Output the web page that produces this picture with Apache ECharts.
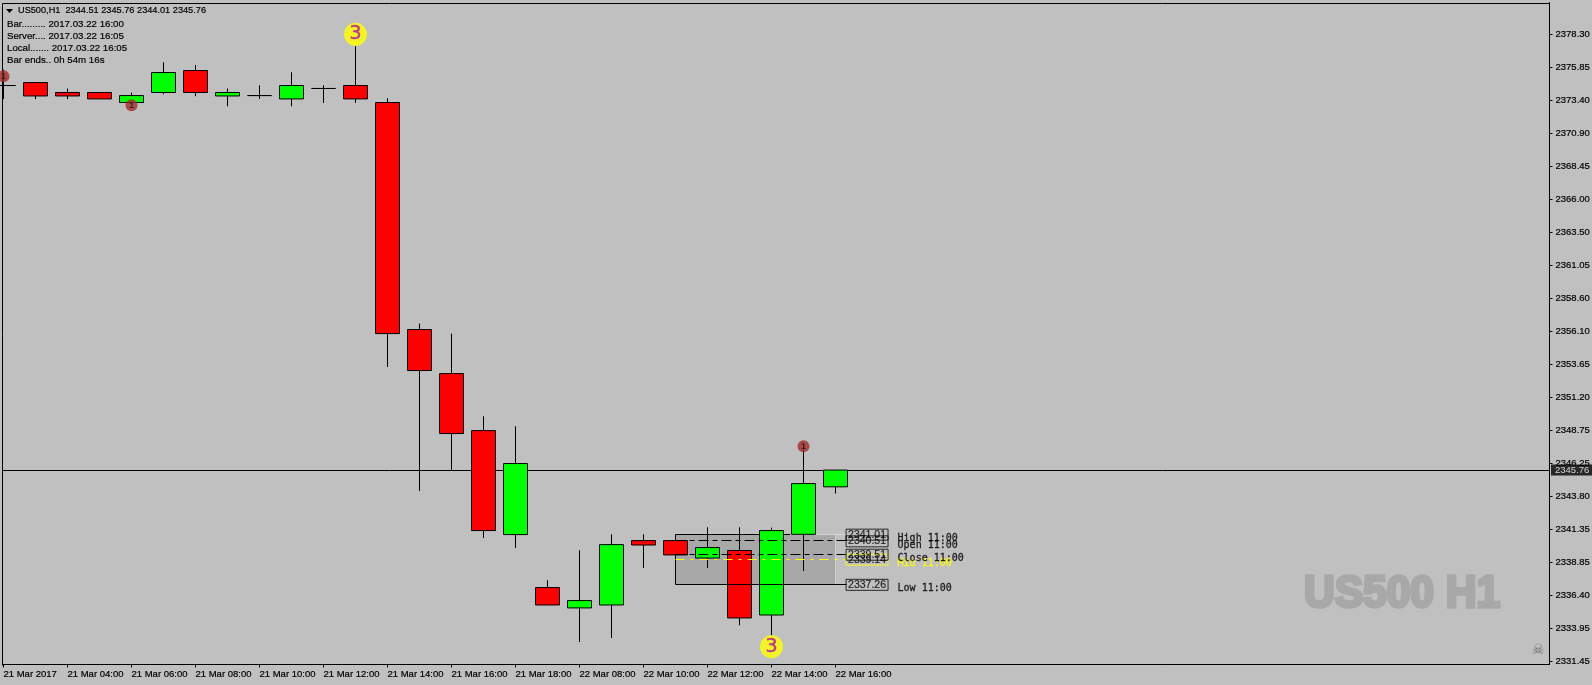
<!DOCTYPE html>
<html>
<head>
<meta charset="utf-8">
<style>html,body{margin:0;padding:0;background:#c0c0c0}#c{width:1592px;height:685px}</style>
<script src="https://cdn.jsdelivr.net/npm/echarts@6/dist/echarts.min.js"></script>
</head>
<body>
<div id="c"></div>
<script>
const categories = ['21 Mar 02:00','21 Mar 03:00','21 Mar 04:00','21 Mar 05:00','21 Mar 06:00','21 Mar 07:00','21 Mar 08:00','21 Mar 09:00','21 Mar 10:00','21 Mar 11:00','21 Mar 12:00','21 Mar 13:00','21 Mar 14:00','21 Mar 15:00','21 Mar 16:00','21 Mar 17:00','21 Mar 18:00','21 Mar 19:00','22 Mar 08:00','22 Mar 09:00','22 Mar 10:00','22 Mar 11:00','22 Mar 12:00','22 Mar 13:00','22 Mar 14:00','22 Mar 15:00','22 Mar 16:00'];
const opens  = [2374.50,2374.72,2373.98,2373.98,2373.23,2373.98,2375.62,2373.72,2373.75,2373.50,2374.28,2374.50,2373.23,2356.26,2352.97,2348.71,2340.94,2336.98,2335.46,2335.68,2340.49,2340.49,2339.19,2339.75,2334.93,2340.96,2344.51];
const closes = [2374.50,2373.72,2373.72,2373.50,2373.75,2375.47,2373.98,2373.98,2373.75,2374.50,2374.28,2373.50,2355.96,2353.20,2348.49,2341.24,2346.25,2335.68,2336.01,2340.19,2340.16,2339.42,2339.97,2334.71,2341.24,2344.75,2345.76];
const lows   = [2373.48,2373.48,2373.48,2373.50,2373.10,2373.85,2373.70,2372.95,2373.50,2372.95,2373.20,2373.20,2353.47,2344.20,2345.75,2340.69,2339.94,2335.68,2332.91,2333.21,2338.45,2339.42,2338.45,2334.16,2333.40,2338.22,2344.01];
const highs  = [2375.69,2374.72,2374.28,2373.98,2373.98,2376.24,2376.02,2374.28,2374.52,2375.49,2374.52,2377.44,2373.55,2356.71,2355.96,2349.78,2349.04,2337.53,2339.77,2340.96,2340.96,2340.49,2341.49,2341.49,2341.46,2347.62,2345.76];

const priceTicks = [2378.30,2375.85,2373.40,2370.90,2368.45,2366.00,2363.50,2361.05,2358.60,2356.10,2353.65,2351.20,2348.75,2346.25,2343.80,2341.35,2338.85,2336.40,2333.95,2331.45];
const timeTickIndex = [0,2,4,6,8,10,12,14,16,18,20,22,24,26];
const timeTickLabels = ['21 Mar 2017','21 Mar 04:00','21 Mar 06:00','21 Mar 08:00','21 Mar 10:00','21 Mar 12:00','21 Mar 14:00','21 Mar 16:00','21 Mar 18:00','22 Mar 08:00','22 Mar 10:00','22 Mar 12:00','22 Mar 14:00','22 Mar 16:00'];

const lastPrice = 2345.76;
const headerLines = ['US500,H1  2344.51 2345.76 2344.01 2345.76','Bar......... 2017.03.22 16:00','Server.... 2017.03.22 16:05','Local....... 2017.03.22 16:05','Bar ends.. 0h 54m 16s'];
const bigMarkers = [[11,2378.33],[24,2332.56]];
const smallMarkers = [[0,2375.19],[4,2373.03],[25,2347.54]];

const boxHigh = 2341.01, boxOpen = 2340.51, boxClose = 2339.51, boxMid = 2339.14, boxLow = 2337.26;
const boxStart = 21, boxEnd = 26, tagX = 26.33, sideX = 27.94;
const levelValues = [boxMid, boxHigh, boxOpen, boxClose, boxLow];
const levelNames = ['Mid 11:00','High 11:00','Open 11:00','Close 11:00','Low 11:00'];
const levelColors = ['#ffff00','#000','#000','#000','#000'];

const UI = '"Liberation Sans", Arial, sans-serif';
const xMin = -1/32, xMax = xMin + 1547/32;
const yMin = 2331.231, yMax = 2380.705;
const snapX = v => Math.floor(v) + 0.5;
const snapY = v => Math.round(v) + 0.5;

function seg(name, p0, p1, color, dash, z) {
  return {type:'custom', name, z, silent:true, clip:false, coordinateSystem:'cartesian2d',
    data:[[p0[0],p0[1],p1[0],p1[1]]], encode:{x:[0,2],y:[1,3]},
    renderItem:(params,api)=>{
      const a = api.coord([api.value(0),api.value(1)]), b = api.coord([api.value(2),api.value(3)]);
      return {type:'line', shape:{x1:snapX(a[0]),y1:snapY(a[1]),x2:snapX(b[0]),y2:snapY(b[1])},
        style:{stroke:color,lineWidth:1,lineDash:dash||null,fill:null}};
    }};
}
function area(name, p0, p1, color, z) {
  return {type:'custom', name, z, silent:true, clip:false, coordinateSystem:'cartesian2d',
    data:[[p0[0],p0[1],p1[0],p1[1]]], encode:{x:[0,2],y:[1,3]},
    renderItem:(params,api)=>{
      const a = api.coord([api.value(0),api.value(1)]), b = api.coord([api.value(2),api.value(3)]);
      return {type:'rect', shape:{x:snapX(a[0]),y:snapY(a[1]),width:snapX(b[0])-snapX(a[0]),height:snapY(b[1])-snapY(a[1])},style:{fill:color}};
    }};
}
const candle = categories.map((c,i)=>[i,opens[i],closes[i],lows[i],highs[i]]);

const option = {
  animation:false,
  backgroundColor:'#c0c0c0',
  grid:{left:2.5, top:2.5, right:42.5, bottom:20.5, show:false, containLabel:false, outerBoundsMode:'none'},
  xAxis:{type:'value', min:xMin, max:xMax, splitLine:{show:false},
    axisLine:{show:true,onZero:false,lineStyle:{color:'#000',width:1}},
    axisTick:{show:true,length:3,inside:false,lineStyle:{color:'#000'},customValues:timeTickIndex},
    axisLabel:{show:true,customValues:timeTickIndex,align:'left',margin:4.5,color:'#000',textBorderColor:'#000',textBorderWidth:0.2,fontFamily:UI,fontSize:9.5,lineHeight:10,hideOverlap:false,showMinLabel:true,showMaxLabel:true,
      formatter:v=>timeTickLabels[timeTickIndex.indexOf(Math.round(v))]||''}},
  yAxis:{type:'value', position:'right', min:yMin, max:yMax, splitLine:{show:false},
    axisLine:{show:true,onZero:false,lineStyle:{color:'#000',width:1}},
    axisTick:{show:true,length:3,inside:false,lineStyle:{color:'#000'},customValues:priceTicks},
    axisLabel:{show:true,customValues:priceTicks,margin:6,align:'left',color:'#000',textBorderColor:'#000',textBorderWidth:0.2,fontFamily:UI,fontSize:9.5,hideOverlap:false,showMinLabel:true,showMaxLabel:true,
      formatter:v=>v.toFixed(2)}},
  series:[
    seg('Frame top',[xMin,yMax],[xMax,yMax],'#000',null,1),
    seg('Frame left',[xMin,yMin],[xMin,yMax],'#000',null,1),
    area('Box area',[boxStart,boxHigh],[boxEnd,boxLow],'#a8a8a8',1),
    seg('Box left',[boxStart,boxHigh],[boxStart,boxLow],'#000',null,1),
    seg('Box top',[boxStart,boxHigh],[24.6,boxHigh],'#000',null,1),
    seg('Box top light',[24.6,boxHigh],[tagX,boxHigh],'#d4d4d4',null,1),
    seg('Box right',[boxEnd,boxHigh],[boxEnd,boxLow],'#cccccc',null,1),
    seg('Last price',[xMin,lastPrice],[xMax,lastPrice],'#000',null,1),
    {type:'candlestick', name:'US500,H1', data:candle, encode:{x:0,y:[1,2,3,4]}, z:2, barWidth:24, silent:true,
      itemStyle:{color:'#00ff00',color0:'#ff0000',borderColor:'#000',borderColor0:'#000',borderColorDoji:'#000',borderWidth:1}},
    seg('Open',[boxStart,boxOpen],[tagX,boxOpen],'#000',[10,4,5,4],3),
    seg('Close',[boxStart,boxClose],[tagX,boxClose],'#000',[10,4,5,4],3),
    seg('Mid',[boxStart,boxMid],[tagX,boxMid],'#ffff00',[9,6,3,6],3),
    seg('Low',[boxStart,boxLow],[tagX,boxLow],'#000',null,3),
    {type:'scatter', name:'Level tags', z:4, silent:true, clip:false, symbolSize:0,
      data:levelValues.map((v,i)=>({value:[tagX,v],label:{borderColor:levelColors[i]}})),
      label:{show:true,position:'right',distance:0,offset:[0,1],formatter:p=>p.value[1].toFixed(2),color:'#000',textBorderColor:'#000',textBorderWidth:0.2,fontFamily:UI,fontSize:10.5,lineHeight:11,padding:[0,2,0,2],width:38,height:11,align:'left',verticalAlign:'middle',borderWidth:1}},
    {type:'scatter', name:'Level names', z:4, silent:true, clip:false, symbolSize:0,
      data:levelValues.map((v,i)=>({value:[sideX,v],name:levelNames[i],label:{color:levelColors[i],textBorderColor:levelColors[i],textBorderWidth:0.3}})),
      label:{show:true,position:'right',distance:0,offset:[0,5],formatter:p=>p.name,fontFamily:'"DejaVu Sans Mono", monospace',fontSize:10}},
    {type:'scatter', name:'Small markers', z:5, silent:true, clip:false, symbol:'circle', symbolSize:12,
      itemStyle:{color:'#a52a2a'}, data:smallMarkers,
      label:{show:true,position:'inside',formatter:'1',color:'#1a1a1a',fontFamily:UI,fontSize:9,fontWeight:'bold'}},
    {type:'scatter', name:'Big markers', z:5, silent:true, clip:false, symbol:'circle', symbolSize:23,
      itemStyle:{color:'#ffff00'}, data:bigMarkers,
      label:{show:true,position:'inside',formatter:'3',color:'#b5179e',textBorderColor:'#b5179e',textBorderWidth:0.5,fontFamily:'"DejaVu Sans", sans-serif',fontSize:19}},
    {type:'scatter', name:'Price tag', z:6, silent:true, clip:false, symbolSize:0, data:[[xMax,lastPrice]],
      label:{show:true,position:'right',distance:1.5,formatter:p=>p.value[1].toFixed(2),color:'#fff',backgroundColor:'#000',fontFamily:UI,fontSize:9.5,padding:[1,2,1,4],width:35,height:9,lineHeight:9,verticalAlign:'middle'}}
  ],
  graphic:[
    {type:'polygon',silent:true,z:10,shape:{points:[[6,9],[13,9],[9.5,13]]},style:{fill:'#000'}},
    ...headerLines.map((t,i)=>({type:'text',silent:true,z:10,x:i===0?18:7,y:i===0?10.5:24+12*(i-1),
      style:{text:t,fill:'#000',stroke:'#000',lineWidth:0.2,font:(i===0?'9.2px ':'9.7px ')+UI,verticalAlign:'middle'}})),
    {type:'text',silent:true,z:0,x:1304,y:594.5,scaleX:0.945,scaleY:1,
      style:{text:'US500 H1',fill:'#a8a8a8',stroke:'#a8a8a8',lineWidth:3.5,font:'bold 45px '+UI,verticalAlign:'middle'}},
    {type:'text',silent:true,z:10,x:1538,y:650,
      style:{text:'\u2620',fill:'#6e6e6e',font:'14px "DejaVu Sans", sans-serif',align:'center',verticalAlign:'middle'}}
  ]
};
const chart = echarts.init(document.getElementById('c'),null,{renderer:'canvas',width:1592,height:685});
chart.setOption(option);
</script>
</body>
</html>
